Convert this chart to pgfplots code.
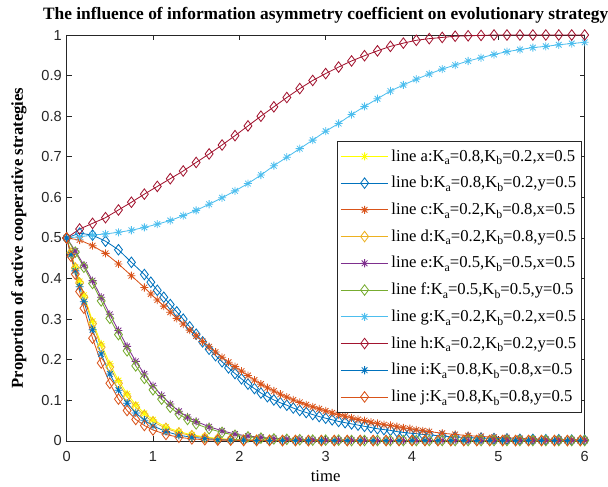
\documentclass[border=0pt]{standalone}
\usepackage{fontspec}
\setmainfont{Liberation Serif}
\newfontfamily\ticksf{Liberation Sans}
\usepackage{pgfplots}
\pgfplotsset{compat=1.18}
\usepackage{pgfplotstable}

% matlab style '*' marker (plus + cross)
\pgfdeclareplotmark{mstar}{%
  \pgfpathmoveto{\pgfpoint{-\pgfplotmarksize}{0pt}}%
  \pgfpathlineto{\pgfpoint{\pgfplotmarksize}{0pt}}%
  \pgfpathmoveto{\pgfpoint{0pt}{-\pgfplotmarksize}}%
  \pgfpathlineto{\pgfpoint{0pt}{\pgfplotmarksize}}%
  \pgfpathmoveto{\pgfpoint{-.707\pgfplotmarksize}{-.707\pgfplotmarksize}}%
  \pgfpathlineto{\pgfpoint{.707\pgfplotmarksize}{.707\pgfplotmarksize}}%
  \pgfpathmoveto{\pgfpoint{-.707\pgfplotmarksize}{.707\pgfplotmarksize}}%
  \pgfpathlineto{\pgfpoint{.707\pgfplotmarksize}{-.707\pgfplotmarksize}}%
  \pgfusepathqstroke}

\newcommand\sub[1]{\raisebox{-0.45ex}{\fontsize{8.5}{9}\selectfont #1}}

\definecolor{myel}{RGB}{255,255,0}
\definecolor{mblue}{RGB}{0,114,189}
\definecolor{morange}{RGB}{217,83,25}
\definecolor{mgold}{RGB}{237,177,32}
\definecolor{mpurple}{RGB}{126,47,142}
\definecolor{mgreen}{RGB}{119,172,48}
\definecolor{mcyan}{RGB}{77,190,238}
\definecolor{mred}{RGB}{162,20,47}
\definecolor{axgray}{RGB}{38,38,38}

% fast decaying lines a, d, i, j
\pgfplotstableread{
t     a      d      i      j
0     0.5    0.5    0.5    0.5
0.05  0.464  0.463  0.459  0.455
0.1   0.428  0.426  0.419  0.411
0.15  0.393  0.389  0.380  0.368
0.2   0.359  0.354  0.343  0.327
0.3   0.295  0.289  0.274  0.253
0.4   0.239  0.231  0.214  0.192
0.5   0.190  0.182  0.165  0.142
0.6   0.149  0.142  0.125  0.103
0.7   0.116  0.109  0.093  0.075
0.8   0.089  0.083  0.069  0.053
0.9   0.068  0.063  0.051  0.038
1.0   0.052  0.047  0.037  0.027
1.15  0.034  0.031  0.023  0.016
1.3   0.023  0.020  0.014  0.009
1.45  0.015  0.013  0.009  0.005
1.6   0.010  0.008  0.006  0.003
1.75  0.006  0.005  0.003  0.002
1.9   0.004  0.003  0.002  0.002
2.05  0.003  0.002  0.002  0.001
2.2   0.002  0.002  0.001  0.001
2.35  0.002  0.002  0.001  0.001
2.5   0.002  0.001  0.001  0.001
2.65  0.002  0.001  0.001  0.001
2.8   0.001  0.001  0.001  0.001
2.95  0.001  0.001  0.001  0.001
3.1   0.001  0.001  0.001  0.001
3.25  0.001  0.001  0.001  0.001
3.4   0.001  0.001  0.001  0.001
3.55  0.001  0.001  0.001  0.001
3.7   0.001  0.001  0.001  0.001
3.85  0.001  0.001  0.001  0.001
4.0   0.001  0.001  0.001  0.001
4.15  0.001  0.001  0.001  0.001
4.3   0.001  0.001  0.001  0.001
4.45  0.001  0.001  0.001  0.001
4.6   0.001  0.001  0.001  0.001
4.75  0.001  0.001  0.001  0.001
4.9   0.001  0.001  0.001  0.001
5.05  0.001  0.001  0.001  0.001
5.2   0.001  0.001  0.001  0.001
5.35  0.001  0.001  0.001  0.001
5.5   0.001  0.001  0.001  0.001
5.65  0.001  0.001  0.001  0.001
5.8   0.001  0.001  0.001  0.001
5.95  0.001  0.001  0.001  0.001
}\tfast

% medium lines e, f
\pgfplotstableread{
t     e      f
0     0.5    0.5
0.1   0.468  0.465
0.2   0.433  0.428
0.3   0.395  0.388
0.4   0.354  0.345
0.5   0.312  0.302
0.6   0.272  0.262
0.7   0.233  0.222
0.8   0.196  0.185
0.9   0.165  0.154
1.0   0.136  0.126
1.1   0.112  0.103
1.2   0.091  0.083
1.3   0.073  0.066
1.4   0.059  0.053
1.5   0.048  0.042
1.65  0.035  0.030
1.8   0.025  0.021
1.95  0.017  0.014
2.1   0.012  0.010
2.25  0.009  0.007
2.4   0.006  0.005
2.55  0.005  0.004
2.7   0.004  0.003
2.85  0.003  0.002
3.0   0.002  0.002
3.15  0.002  0.002
3.3   0.002  0.001
3.45  0.002  0.001
3.6   0.001  0.001
3.75  0.001  0.001
3.9   0.001  0.001
4.05  0.001  0.001
4.2   0.001  0.001
4.35  0.001  0.001
4.5   0.001  0.001
4.65  0.001  0.001
4.8   0.001  0.001
4.95  0.001  0.001
5.1   0.001  0.001
5.25  0.001  0.001
5.4   0.001  0.001
5.55  0.001  0.001
5.7   0.001  0.001
5.85  0.001  0.001
6.0   0.001  0.001
}\tmid

% slow decaying lines b, c (denser solver steps in the middle)
\pgfplotstableread{
t      b      c
0      0.5    0.5
0.15   0.512  0.495
0.3    0.507  0.481
0.45   0.492  0.462
0.6    0.471  0.436
0.75   0.440  0.407
0.9    0.410  0.378
0.975  0.391  0.362
1.05   0.371  0.347
1.125  0.354  0.332
1.2    0.336  0.317
1.275  0.318  0.302
1.35   0.300  0.288
1.425  0.281  0.273
1.5    0.263  0.259
1.575  0.244  0.245
1.65   0.226  0.232
1.725  0.210  0.219
1.8    0.195  0.206
1.875  0.180  0.194
1.95   0.166  0.183
2.025  0.153  0.172
2.1    0.140  0.161
2.175  0.129  0.150
2.25   0.118  0.140
2.325  0.109  0.131
2.4    0.101  0.123
2.475  0.094  0.115
2.55   0.088  0.108
2.625  0.081  0.101
2.7    0.075  0.095
2.775  0.070  0.089
2.85   0.065  0.084
2.925  0.060  0.079
3.0    0.056  0.074
3.075  0.052  0.069
3.15   0.048  0.065
3.225  0.045  0.061
3.3    0.042  0.057
3.375  0.039  0.053
3.45   0.036  0.050
3.525  0.033  0.046
3.6    0.030  0.043
3.675  0.028  0.040
3.75   0.026  0.038
3.825  0.023  0.035
3.9    0.021  0.032
3.975  0.019  0.030
4.05   0.018  0.027
4.125  0.016  0.025
4.2    0.015  0.023
4.35   0.012  0.019
4.5    0.010  0.016
4.65   0.008  0.013
4.8    0.007  0.011
4.95   0.006  0.009
5.1    0.005  0.008
5.25   0.004  0.006
5.4    0.004  0.005
5.55   0.003  0.004
5.7    0.003  0.004
5.85   0.002  0.003
6.0    0.002  0.003
}\tbc

% rising lines g, h
\pgfplotstableread{
t     g      h
0     0.5    0.5
0.15  0.503  0.522
0.3   0.507  0.536
0.45  0.510  0.550
0.6   0.514  0.569
0.75  0.519  0.588
0.9   0.526  0.608
1.05  0.534  0.627
1.2   0.543  0.646
1.35  0.555  0.665
1.5   0.568  0.686
1.65  0.583  0.707
1.8   0.599  0.729
1.95  0.616  0.752
2.1   0.634  0.776
2.25  0.655  0.800
2.4   0.678  0.823
2.55  0.699  0.846
2.7   0.720  0.868
2.85  0.741  0.888
3.0   0.763  0.905
3.15  0.782  0.921
3.3   0.804  0.936
3.45  0.824  0.949
3.6   0.843  0.961
3.75  0.862  0.972
3.9   0.877  0.980
4.05  0.891  0.987
4.2   0.904  0.991
4.35  0.916  0.994
4.5   0.926  0.997
4.65  0.936  0.998
4.8   0.944  0.999
4.95  0.952  1.000
5.1   0.959  1.000
5.25  0.964  1.000
5.4   0.969  1.000
5.55  0.972  1.000
5.7   0.976  1.000
5.85  0.979  1.000
6.0   0.982  1.000
}\tgh

\pgfplotsset{
  st/.style={mark=mstar, mark size=2.9pt, line width=0.6pt},
  dm/.style={mark=diamond, mark size=3.8pt, line width=0.6pt},
}

\begin{document}
\begin{tikzpicture}
\begin{axis}[
  scale only axis, width=373pt, height=292.3pt,
  xmin=0, xmax=6, ymin=0, ymax=1,
  xtick={0,1,2,3,4,5,6},
  ytick={0,0.1,0.2,0.3,0.4,0.5,0.6,0.7,0.8,0.9,1},
  clip=false,
  axis line style={draw=axgray, line width=0.6pt},
  tick style={draw=axgray, line width=0.6pt},
  major tick length=3.6pt,
  tick align=inside,
  tick label style={font=\ticksf\fontsize{10.5}{12}\selectfont, text=axgray},
  /pgf/number format/assume math mode=true,
  xticklabel style={yshift=-4pt},
  title={\fontsize{12.5}{14}\selectfont\bfseries The influence of information asymmetry coefficient on evolutionary strategy},
  title style={at={(axis description cs:0.5,1.017)}, anchor=base},
  xlabel={\fontsize{12}{14}\selectfont time},
  xlabel style={at={(axis description cs:0.5,-0.099)}, anchor=base},
  ylabel={\fontsize{12}{14}\selectfont\bfseries Proportion of active cooperative strategies},
  ylabel style={at={(axis description cs:-0.0845,0.5)}, anchor=base, rotate=0},
  legend image code/.code={\draw[mark repeat=2,mark phase=2,#1] plot coordinates {(0cm,0cm) (0.6cm,0cm) (1.2cm,0cm)};},
  legend style={at={(0.995,0.739)}, anchor=north east, draw=axgray, line width=0.5pt,
    font=\fontsize{12}{14}\selectfont, cells={anchor=west}, row sep=5.4pt,
    inner xsep=2pt, inner ysep=4pt},
]
\addplot [color=myel, st] table[x=t, y=a] {\tfast};
\addlegendentry{line a:K\sub{a}=0.8,K\sub{b}=0.2,x=0.5}
\addplot [color=mblue, dm] table[x=t, y=b] {\tbc};
\addlegendentry{line b:K\sub{a}=0.8,K\sub{b}=0.2,y=0.5}
\addplot [color=morange, st] table[x=t, y=c] {\tbc};
\addlegendentry{line c:K\sub{a}=0.2,K\sub{b}=0.8,x=0.5}
\addplot [color=mgold, dm] table[x=t, y=d] {\tfast};
\addlegendentry{line d:K\sub{a}=0.2,K\sub{b}=0.8,y=0.5}
\addplot [color=mpurple, st] table[x=t, y=e] {\tmid};
\addlegendentry{line e:K\sub{a}=0.5,K\sub{b}=0.5,x=0.5}
\addplot [color=mgreen, dm] table[x=t, y=f] {\tmid};
\addlegendentry{line f:K\sub{a}=0.5,K\sub{b}=0.5,y=0.5}
\addplot [color=mcyan, st] table[x=t, y=g] {\tgh};
\addlegendentry{line g:K\sub{a}=0.2,K\sub{b}=0.2,x=0.5}
\addplot [color=mred, dm] table[x=t, y=h] {\tgh};
\addlegendentry{line h:K\sub{a}=0.2,K\sub{b}=0.2,y=0.5}
\addplot [color=mblue, st] table[x=t, y=i] {\tfast};
\addlegendentry{line i:K\sub{a}=0.8,K\sub{b}=0.8,x=0.5}
\addplot [color=morange, dm] table[x=t, y=j] {\tfast};
\addlegendentry{line j:K\sub{a}=0.8,K\sub{b}=0.8,y=0.5}
\end{axis}
\pgfresetboundingbox
\path ([xshift=-48pt,yshift=-33.1pt]current axis.south west) rectangle ([xshift=16.8pt,yshift=25.2pt]current axis.north east);
\end{tikzpicture}
\end{document}
